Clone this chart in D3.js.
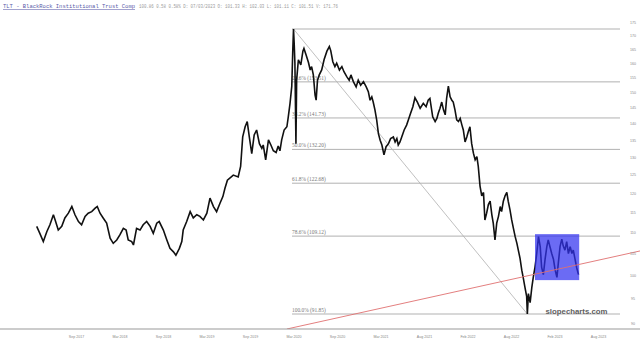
<!DOCTYPE html>
<html><head><meta charset="utf-8">
<script src="https://cdn.jsdelivr.net/npm/d3@7"></script>
<style>html,body{margin:0;padding:0;background:#fff}svg{display:block}</style>
</head><body>
<svg id="c" width="640" height="343"></svg>
<script>
// ---- data (trading-session number since first bar, and price) ----
const bars = [0,9,19,29,38,48,53,62,72,81,91,101,110,120,129,139,148,158,168,174,182,191,201,211,220,230,239,249,257,263,273,278,287,297,306,316,326,335,345,352,364,374,383,393,400,410,417,421,431,441,450,460,469,479,489,498,508,517,527,535,541,548,565,579,586,592,599,605,611,618,625,632,640,647,651,658,666,673,680,688,694,699,704,711,719,723,728,733,736,738,740,742,745,747,752,759,765,768,774,781,786,790,795,800,803,807,812,819,826,834,841,845,851,857,862,870,877,883,891,898,903,910,918,924,931,939,947,953,958,963,967,972,977,982,987,992,998,1004,1011,1017,1025,1030,1035,1039,1044,1049,1056,1063,1068,1073,1081,1087,1094,1102,1111,1119,1125,1130,1138,1145,1150,1154,1159,1164,1169,1174,1178,1183,1188,1193,1197,1202,1207,1212,1217,1222,1226,1231,1236,1240,1245,1250,1255,1260,1265,1269,1274,1279,1284,1288,1293,1298,1303,1308,1312,1317,1322,1327,1332,1336,1341,1346,1351,1355,1360,1365,1370,1375,1380,1384,1389,1394,1398,1403,1408,1410,1413,1418,1423,1427,1432,1437,1442,1447,1451,1456,1461,1466,1470,1475,1480,1485,1490,1495,1499,1504,1509,1513,1518,1523,1528,1533,1538,1542,1547,1552,1557];
const closes = [111.5,109.8,107.8,110.2,111.9,114.4,113.1,110.6,111.5,113.6,114.8,116.5,114.4,112.7,111.9,114.0,114.8,115.2,116.1,116.5,114.8,113.6,112.3,108.6,107.4,108.2,109.4,111.0,110.6,108.2,107.8,107.0,111.0,110.6,111.9,112.7,111.5,109.8,112.3,112.7,110.6,108.2,106.2,105.4,104.6,106.2,107.8,110.6,112.7,115.2,113.6,114.4,114.0,113.1,114.8,118.7,116.5,115.2,117.4,119.1,121.3,123.5,124.9,124.4,127.3,135.9,139.0,140.6,135.9,131.0,136.5,138.0,133.9,132.5,133.5,129.2,135.0,133.5,131.8,131.3,133.2,131.8,135.0,138.0,139.0,142.1,146.4,152.0,165.0,172.55,167.0,160.1,133.9,154.1,161.2,159.4,164.3,165.3,163.0,160.2,157.6,158.8,155.9,149.1,147.4,154.1,155.9,157.6,161.3,164.3,166.0,164.5,160.5,158.8,160.0,157.6,158.8,157.0,155.3,154.1,155.9,153.6,151.8,154.1,152.4,153.6,151.8,150.2,147.4,148.5,146.8,144.3,141.1,136.9,134.9,133.5,130.6,133.0,133.9,135.4,135.9,134.4,135.4,133.5,134.4,135.9,138.0,139.5,141.1,142.7,145.3,148.2,146.8,144.8,146.4,145.3,147.4,148.0,142.1,140.6,141.6,143.2,144.8,146.8,144.3,142.7,148.0,152.1,148.5,147.4,146.8,144.3,141.1,140.6,141.6,139.5,138.0,134.4,135.9,137.4,139.0,133.9,131.1,129.2,130.1,127.3,121.9,119.3,120.2,113.1,114.8,117.0,117.9,114.4,112.3,108.2,112.3,114.0,116.5,115.2,117.9,119.3,120.2,117.9,115.7,113.1,111.0,109.0,107.4,105.8,103.9,101.2,99.6,97.5,95.5,91.85,96.1,94.2,97.5,99.6,101.9,105.0,109.0,106.6,101.9,100.2,103.7,106.6,108.2,106.6,105.0,103.7,101.2,99.6,102.8,106.6,108.4,106.8,105.8,107.8,105.0,106.6,105.0,105.8,103.7,101.7,100.2];

const tickBars = [113,238,363,488,613,738,863,988,1113,1238,1363,1488,1613];
const tickLabels = ["Sep 2017","Mar 2018","Sep 2018","Mar 2019","Sep 2019","Mar 2020","Sep 2020","Mar 2021","Aug 2021","Feb 2022","Aug 2022","Feb 2023","Aug 2023"];
const yTicks = [90,95,100,105,110,115,120,125,130,135,140,145,150,155,160,165,170,175];

const fibRatios = [0, 0.236, 0.382, 0.5, 0.618, 0.786, 1];
const fibHigh = [738, 172.555];   // [bar, price]
const fibLow  = [1410, 91.85];
const trendLine = [[719, 88.85], [1734, 105.6]];
const boxBars = [1432, 1559];
const boxPrices = [99.0, 109.6];

const titleText = "TLT - BlackRock Institutional Trust Comp";
const quoteText = "100.86 0.58 0.58% D: 07/03/2023 O: 101.33 H: 102.03 L: 101.11 C: 101.51 V: 171.76";
const watermark = "slopecharts.com";

// ---- layout ----
const W = 640, H = 343;
const plotRight = 620, plotBottom = 329;
const svg = d3.select("#c");

const x = d3.scaleLinear().domain([0, 1557]).range([36.7, 578.5]);
const y = d3.scaleLog().domain([fibLow[1], fibHigh[1]]).range([314, 29]);

const defs = svg.append("defs");
defs.append("clipPath").attr("id","plotclip").append("rect")
  .attr("x",0).attr("y",0).attr("width",W).attr("height",plotBottom);

// header
svg.append("text").attr("x",3).attr("y",8)
  .attr("font-family","'Liberation Mono', 'DejaVu Sans Mono', monospace")
  .attr("font-size",5.6).attr("fill","#5a5aa8")
  .attr("text-decoration","underline")
  .attr("textLength",132).attr("lengthAdjust","spacingAndGlyphs")
  .text(titleText);
svg.append("text").attr("x",139).attr("y",8)
  .attr("font-family","'Liberation Mono', 'DejaVu Sans Mono', monospace")
  .attr("font-size",5.6).attr("fill","#9a9a9a")
  .attr("textLength",199).attr("lengthAdjust","spacingAndGlyphs")
  .text(quoteText);

// fib levels
const range = fibHigh[1] - fibLow[1];
const fibs = fibRatios.map(r => ({r, v: fibHigh[1] - r*range}));
const fibG = svg.append("g");
fibG.selectAll("line").data(fibs).join("line")
  .attr("x1", x(fibHigh[0]) - 1.5).attr("x2", plotRight)
  .attr("y1", d => y(d.v)).attr("y2", d => y(d.v))
  .attr("stroke","#a8a8a8").attr("stroke-width",0.9);
fibG.selectAll("text").data(fibs.filter(d => d.r > 0)).join("text")
  .attr("x", x(fibHigh[0]) - 1.5).attr("y", d => y(d.v) - 2)
  .attr("font-family","'Liberation Serif', 'DejaVu Serif', serif")
  .attr("font-size",5.4).attr("fill","#777")
  .text(d => `${(d.r*100).toFixed(1)}% (${d.v.toFixed(2)})`);

// diagonal fib line
svg.append("line")
  .attr("x1", x(fibHigh[0])).attr("y1", y(fibHigh[1]))
  .attr("x2", x(fibLow[0])).attr("y2", y(fibLow[1]))
  .attr("stroke","#b0b0b0").attr("stroke-width",0.8);

// price line
const pts = bars.map((b,i) => [b, closes[i]]);
svg.append("path")
  .attr("d", d3.line().x(d => x(d[0])).y(d => y(d[1]))(pts))
  .attr("fill","none").attr("stroke","#111").attr("stroke-width",1.6)
  .attr("stroke-linejoin","miter").attr("stroke-miterlimit",3);

// box
svg.append("rect")
  .attr("x", x(boxBars[0])).attr("width", x(boxBars[1]) - x(boxBars[0]))
  .attr("y", y(boxPrices[1])).attr("height", y(boxPrices[0]) - y(boxPrices[1]))
  .attr("fill","#3232f0").attr("fill-opacity",0.72);

// trend line
svg.append("line").attr("clip-path","url(#plotclip)")
  .attr("x1", x(trendLine[0][0])).attr("y1", y(trendLine[0][1]))
  .attr("x2", x(trendLine[1][0])).attr("y2", y(trendLine[1][1]))
  .attr("stroke","#e07070").attr("stroke-width",0.9);

// x axis
svg.append("line").attr("x1",0).attr("x2",W).attr("y1",plotBottom).attr("y2",plotBottom)
  .attr("stroke","#999").attr("stroke-width",1);
const xAxis = svg.append("g").attr("transform",`translate(0,${plotBottom})`)
  .call(d3.axisBottom(x).tickValues(tickBars).tickFormat((d,i) => tickLabels[i]).tickSize(0).tickPadding(6));
xAxis.select(".domain").remove();
xAxis.selectAll("text").attr("font-family","'Liberation Sans', Arial, sans-serif")
  .attr("font-size",3.6).attr("fill","#888");

// y axis (right)
const yAxis = svg.append("g").attr("transform",`translate(633,0)`)
  .call(d3.axisRight(y).tickValues(yTicks).tickFormat(d3.format("d")).tickSize(0).tickPadding(0));
yAxis.select(".domain").remove();
yAxis.selectAll("text").attr("text-anchor","middle")
  .attr("font-family","'Liberation Sans', Arial, sans-serif")
  .attr("font-size",3.6).attr("fill","#888");

// watermark
svg.append("text").attr("x",576.5).attr("y",313.5).attr("text-anchor","middle")
  .attr("font-family","'Liberation Sans', Arial, sans-serif").attr("font-weight","bold")
  .attr("font-size",7.8).attr("fill","#606060")
  .text(watermark);
</script>
</body></html>
